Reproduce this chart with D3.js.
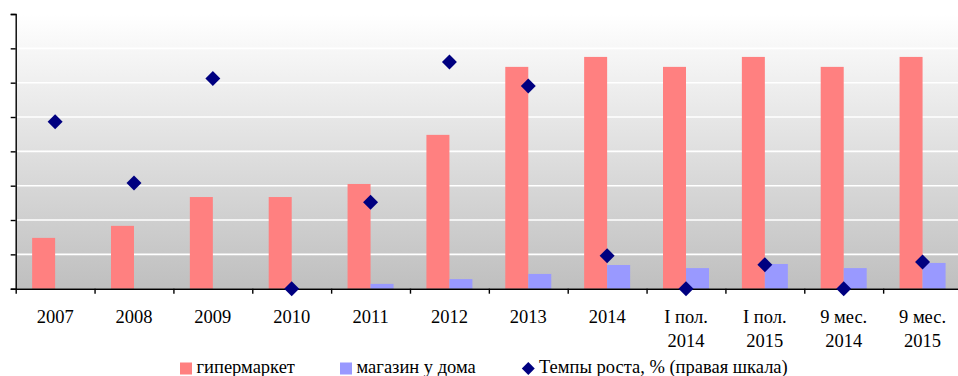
<!DOCTYPE html>
<html>
<head>
<meta charset="utf-8">
<script src="https://cdn.jsdelivr.net/npm/d3@7/dist/d3.min.js"></script>
<style>
  html, body { margin: 0; padding: 0; background: #ffffff; }
  svg { display: block; }
</style>
</head>
<body>
<svg id="chart" width="958" height="376"></svg>
<script>
// Periods on the category axis (multi-line labels split into lines)
const categories = ["2007", "2008", "2009", "2010", "2011", "2012", "2013", "2014",
  "I пол. 2014", "I пол. 2015", "9 мес. 2014", "9 мес. 2015"];
const categoryLines = [["2007"], ["2008"], ["2009"], ["2010"], ["2011"], ["2012"], ["2013"], ["2014"],
  ["I пол.", "2014"], ["I пол.", "2015"], ["9 мес.", "2014"], ["9 мес.", "2015"]];

// Bar series (left scale)
const hypermarket = [14.8, 18.3, 26.7, 26.7, 30.5, 44.8, 64.6, 67.5, 64.6, 67.5, 64.6, 67.5];
const nearHome    = [0, 0, 0, 0, 1.4, 2.8, 4.3, 6.9, 6.0, 7.2, 6.0, 7.5];

// Growth rate, % (right scale)
const growthRate  = [243, 154, 306, 0, 126, 330, 295, 48, 0, 35, 0, 39];

// Axis settings
const leftDomain = [0, 80];
const rightDomain = [0, 400];
const gridCount = 8;

const seriesNames = ["гипермаркет", "магазин у дома", "Темпы роста, % (правая шкала)"];
const seriesColors = ["#ff8080", "#9999ff", "#000080"];

const FONT = "'Liberation Serif', 'Times New Roman', 'DejaVu Serif', serif";
const FONT_SIZE = "18.5px";

const svg = d3.select("#chart").attr("font-family", FONT);
const plot = { left: 15.7, right: 962, top: 14, bottom: 288.7 };

const x = d3.scaleBand().domain(categories).range([plot.left, plot.right]).paddingInner(0).paddingOuter(0);
const barW = 23;
const outerPad = (x.bandwidth() / barW - 2) / 2;
const xSub = d3.scaleBand().domain(["h", "n"]).range([0, x.bandwidth()]).paddingInner(0).paddingOuter(outerPad);
const yL = d3.scaleLinear().domain(leftDomain).range([plot.bottom, plot.top]);
const yR = d3.scaleLinear().domain(rightDomain).range([plot.bottom, plot.top]);

// Plot area background: vertical gradient from white to grey
const defs = svg.append("defs");
const grad = defs.append("linearGradient").attr("id", "bg").attr("x1", 0).attr("y1", 0).attr("x2", 0).attr("y2", 1);
grad.append("stop").attr("offset", "0%").attr("stop-color", "#ffffff");
grad.append("stop").attr("offset", "100%").attr("stop-color", "#bfbfbf");

svg.append("rect")
  .attr("x", plot.left).attr("y", plot.top)
  .attr("width", plot.right - plot.left).attr("height", plot.bottom - plot.top)
  .attr("fill", "url(#bg)");

// White horizontal gridlines
const gridVals = d3.range(0, gridCount + 1).map(i => leftDomain[0] + i * (leftDomain[1] - leftDomain[0]) / gridCount);
svg.append("g").selectAll("line").data(gridVals.slice(1)).join("line")
  .attr("x1", plot.left).attr("x2", plot.right)
  .attr("y1", d => yL(d)).attr("y2", d => yL(d))
  .attr("stroke", "#ffffff").attr("stroke-width", 1.6);

// Bars
const groups = svg.append("g").selectAll("g").data(categories).join("g")
  .attr("transform", d => `translate(${x(d)},0)`);
groups.append("rect")
  .attr("x", xSub("h")).attr("width", xSub.bandwidth())
  .attr("y", (d, i) => yL(hypermarket[i]))
  .attr("height", (d, i) => yL(0) - yL(hypermarket[i]))
  .attr("fill", seriesColors[0]);
groups.append("rect")
  .attr("x", xSub("n")).attr("width", xSub.bandwidth())
  .attr("y", (d, i) => yL(nearHome[i]))
  .attr("height", (d, i) => yL(0) - yL(nearHome[i]))
  .attr("fill", seriesColors[1]);

// Left axis (values axis, ticks only)
const leftAxis = d3.axisLeft(yL).tickValues(gridVals).tickSize(5).tickFormat("");
const gL = svg.append("g").attr("transform", `translate(${plot.left},0)`).call(leftAxis);
gL.select(".domain").attr("stroke", "#000").attr("stroke-width", 1.4);
gL.selectAll(".tick line").attr("stroke", "#000").attr("stroke-width", 1.4);

// Bottom axis with ticks between categories
const xIdx = d3.scaleLinear().domain([0, categories.length]).range([plot.left, plot.right]);
const bottomAxis = d3.axisBottom(xIdx).tickValues(d3.range(0, categories.length + 1)).tickSize(5).tickSizeOuter(0).tickFormat("");
const gB = svg.append("g").attr("transform", `translate(0,${plot.bottom})`).call(bottomAxis);
gB.select(".domain").attr("stroke", "#000").attr("stroke-width", 1.6);
gB.selectAll(".tick line").attr("stroke", "#000").attr("stroke-width", 1.4);

// Category labels
const lbl = svg.append("g").selectAll("text").data(categories).join("text")
  .attr("text-anchor", "middle")
  .style("font-family", FONT)
  .style("font-size", FONT_SIZE)
  .attr("fill", "#000");
lbl.each(function(d, i) {
  const t = d3.select(this);
  categoryLines[i].forEach((line, k) => {
    t.append("tspan").attr("x", x(d) + x.bandwidth() / 2).attr("y", 323.3 + k * 23.4).text(line);
  });
});

// Growth-rate markers (diamonds)
const diamond = d3.symbol(d3.symbolSquare, 112);
svg.append("g").selectAll("path").data(categories).join("path")
  .attr("d", diamond)
  .attr("transform", (d, i) => `translate(${x(d) + x.bandwidth() / 2},${yR(growthRate[i])}) rotate(45)`)
  .attr("fill", seriesColors[2]);

// Legend
const legend = svg.append("g").style("font-family", FONT).style("font-size", FONT_SIZE).attr("fill", "#000");
legend.append("rect").attr("x", 180).attr("y", 362.5).attr("width", 12).attr("height", 12).attr("fill", seriesColors[0]);
legend.append("text").attr("x", 196.5).attr("y", 373).text(seriesNames[0]);
legend.append("rect").attr("x", 340).attr("y", 362.5).attr("width", 12).attr("height", 12).attr("fill", seriesColors[1]);
legend.append("text").attr("x", 356.5).attr("y", 373).text(seriesNames[1]);
legend.append("path").attr("d", d3.symbol(d3.symbolSquare, 84))
  .attr("transform", "translate(528.3,368.5) rotate(45)").attr("fill", seriesColors[2]);
legend.append("text").attr("x", 539).attr("y", 373).text(seriesNames[2]);
</script>
</body>
</html>
